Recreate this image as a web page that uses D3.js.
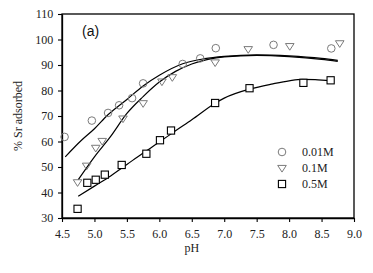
<!DOCTYPE html>
<html><head><meta charset="utf-8">
<script src="https://cdn.jsdelivr.net/npm/d3@7"></script>
<style>body{margin:0;background:#fff}</style>
</head><body>
<script>
// Data
const pH001 = [4.54, 4.96, 5.21, 5.38, 5.58, 5.75, 6.36, 6.63, 6.87, 7.76, 8.65];
const val001 = [61.8, 68.2, 71.2, 74.2, 77.0, 82.8, 90.4, 92.6, 96.6, 97.9, 96.5];
const pH01 = [4.74, 4.88, 5.02, 5.12, 5.44, 5.75, 6.04, 6.2, 6.86, 7.37, 8.01, 8.78];
const val01 = [44.0, 50.5, 57.5, 60.2, 69.0, 75.0, 83.5, 85.2, 91.0, 96.2, 97.4, 98.5];
const pH05 = [4.74, 4.89, 5.02, 5.16, 5.42, 5.8, 6.01, 6.18, 6.86, 7.39, 8.22, 8.64];
const val05 = [33.6, 43.8, 45.0, 47.0, 50.8, 55.2, 60.5, 64.3, 75.1, 80.9, 83.0, 84.0];
// Fitted curves
const fit001X = [4.55, 4.8, 5.0, 5.2, 5.5, 5.75, 6.0, 6.36, 6.7, 7.0, 7.5, 8.0, 8.5, 8.75];
const fit001Y = [54.0, 60.5, 65.0, 70.3, 76.5, 81.8, 86.0, 90.5, 92.5, 93.4, 94.0, 93.6, 92.6, 91.8];
const fit01X = [4.75, 5.0, 5.25, 5.5, 5.75, 6.0, 6.25, 6.5, 6.75, 7.0, 7.5, 8.0, 8.5, 8.75];
const fit01Y = [45.0, 54.0, 62.0, 71.0, 77.6, 83.3, 87.5, 90.4, 92.2, 93.2, 93.8, 93.3, 92.2, 91.4];
const fit05X = [4.75, 5.0, 5.25, 5.5, 5.75, 6.0, 6.25, 6.5, 6.86, 7.0, 7.4, 7.75, 8.0, 8.2, 8.4, 8.64];
const fit05Y = [38.5, 42.5, 46.5, 51.0, 55.5, 59.8, 64.2, 68.5, 75.0, 77.0, 80.6, 82.6, 83.8, 84.4, 84.3, 83.9];
const xTicks = [4.5, 5.0, 5.5, 6.0, 6.5, 7.0, 7.5, 8.0, 8.5, 9.0];
const yTicks = [30, 40, 50, 60, 70, 80, 90, 100, 110];
const legendLabels = ["0.01M", "0.1M", "0.5M"];

const W = 373, H = 273;
const m = {l: 62, r: 19, t: 14, b: 55};
const svg = d3.select("body").append("svg").attr("width", W).attr("height", H)
  .style("font-family", "'Liberation Serif', 'Times New Roman', serif");

const x = d3.scaleLinear().domain([4.5, 9.0]).range([m.l, W - m.r]);
const y = d3.scaleLinear().domain([30, 110]).range([H - m.b, m.t]);

// frame
svg.append("rect").attr("x", m.l).attr("y", m.t)
  .attr("width", W - m.r - m.l).attr("height", H - m.b - m.t)
  .attr("fill", "none").attr("stroke", "#000").attr("stroke-width", 1.3);

const xAxis = svg.append("g").attr("transform", `translate(0,${H - m.b})`)
  .call(d3.axisBottom(x).tickValues(xTicks).tickFormat(d3.format(".1f")).tickSize(4).tickSizeOuter(0));
const yAxis = svg.append("g").attr("transform", `translate(${m.l},0)`)
  .call(d3.axisLeft(y).tickValues(yTicks).tickSize(4).tickSizeOuter(0));
[xAxis, yAxis].forEach(a => {
  a.select(".domain").attr("stroke", "#000").attr("stroke-width", 1.3);
  a.selectAll(".tick line").attr("stroke", "#000").attr("stroke-width", 1.1);
  a.selectAll("text").attr("font-family", "'Liberation Serif', serif")
    .attr("font-size", 12).attr("fill", "#222");
});
xAxis.selectAll("text").attr("dy", "1.05em");
yAxis.selectAll("text").attr("dx", "-0.15em");

// axis titles
svg.append("text").attr("x", x(6.5)).attr("y", 252).attr("text-anchor", "middle")
  .attr("font-size", 12).attr("fill", "#222").text("pH");
svg.append("text").attr("transform", `translate(22,${y(70)}) rotate(-90)`)
  .attr("text-anchor", "middle").attr("font-size", 12).attr("fill", "#222").text("% Sr adsorbed");

svg.append("text").attr("x", 82).attr("y", 36)
  .attr("font-family", "'Liberation Sans', Arial, sans-serif")
  .attr("font-size", 14).attr("fill", "#111").text("(a)");

// curves
const line = d3.line().x(d => x(d[0])).y(d => y(d[1])).curve(d3.curveMonotoneX);
[[fit001X, fit001Y], [fit01X, fit01Y], [fit05X, fit05Y]].forEach(([xs, ys]) => {
  svg.append("path").attr("d", line(xs.map((v, i) => [v, ys[i]])))
    .attr("fill", "none").attr("stroke", "#000").attr("stroke-width", 1.2);
});

// markers
const grey = "#7a7a7a";
function circle(g, cx, cy) {
  g.append("circle").attr("cx", cx).attr("cy", cy).attr("r", 3.8)
    .attr("fill", "none").attr("stroke", grey).attr("stroke-width", 1);
}
function tri(g, cx, cy) {
  const s = 4.3;
  g.append("path").attr("d", `M${cx - s},${cy - s * 0.6}L${cx + s},${cy - s * 0.6}L${cx},${cy + s * 0.95}Z`)
    .attr("fill", "none").attr("stroke", grey).attr("stroke-width", 1);
}
function sq(g, cx, cy) {
  g.append("rect").attr("x", cx - 3.6).attr("y", cy - 3.6).attr("width", 7.2).attr("height", 7.2)
    .attr("fill", "#fff").attr("stroke", "#000").attr("stroke-width", 1.1);
}
const mk = svg.append("g");
pH001.forEach((p, i) => circle(mk, x(p), y(val001[i])));
pH01.forEach((p, i) => tri(mk, x(p), y(val01[i])));
pH05.forEach((p, i) => sq(mk, x(p), y(val05[i])));

// legend
const lg = svg.append("g");
const fns = [circle, tri, sq];
legendLabels.forEach((t, i) => {
  const ly = 152 + i * 16;
  fns[i](lg, 282, ly);
  lg.append("text").attr("x", 302).attr("y", ly + 4).attr("font-size", 12)
    .attr("fill", "#222").text(t);
});
</script>
</body></html>
